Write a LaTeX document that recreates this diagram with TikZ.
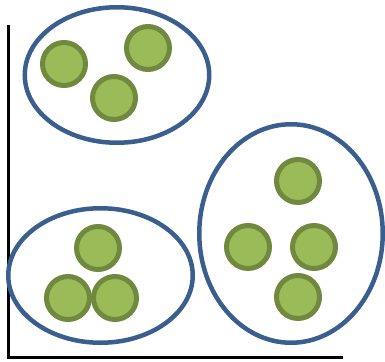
\documentclass[tikz,border=0pt]{standalone}
\usepackage{tikz}
\usetikzlibrary{shapes.geometric}

\definecolor{clusterblue}{HTML}{3A5F8E}
\definecolor{pointfill}{HTML}{9BBB59}
\definecolor{pointedge}{HTML}{71893F}

\begin{document}
\begin{tikzpicture}[x=1pt, y=-1pt,
    point/.style={draw=pointedge, fill=pointfill, circle, line width=5pt, minimum size=43pt, inner sep=0pt},
    cluster/.style={draw=clusterblue, ellipse, line width=4.5pt, inner sep=0pt}]

\useasboundingbox (0,0) rectangle (385,361);

% axes
\coordinate (top) at (8.5,25);
\coordinate (origin) at (8.5,357.5);
\coordinate (right) at (343,357.5);
\draw[line width=3pt] (top) -- (origin) -- (right);

% clusters
\node[cluster, minimum width=184.5pt, minimum height=135.5pt] (g1) at (117,75) {};
\node[cluster, minimum width=184.5pt, minimum height=134.5pt] (g2) at (100.5,275.5) {};
\node[cluster, minimum width=183.5pt, minimum height=218.5pt] (g3) at (291,233.5) {};

% points
\node[point] (p1) at (64,64) {}; \node[point] (p2) at (148,48) {}; \node[point] (p3) at (114,98) {};
\node[point] (p4) at (98,248) {}; \node[point] (p5) at (68,298) {}; \node[point] (p6) at (115,298) {};
\node[point] (p7) at (298,181) {}; \node[point] (p8) at (248,247) {};
\node[point] (p9) at (314,247) {}; \node[point] (p10) at (298,297) {};

\end{tikzpicture}
\end{document}
